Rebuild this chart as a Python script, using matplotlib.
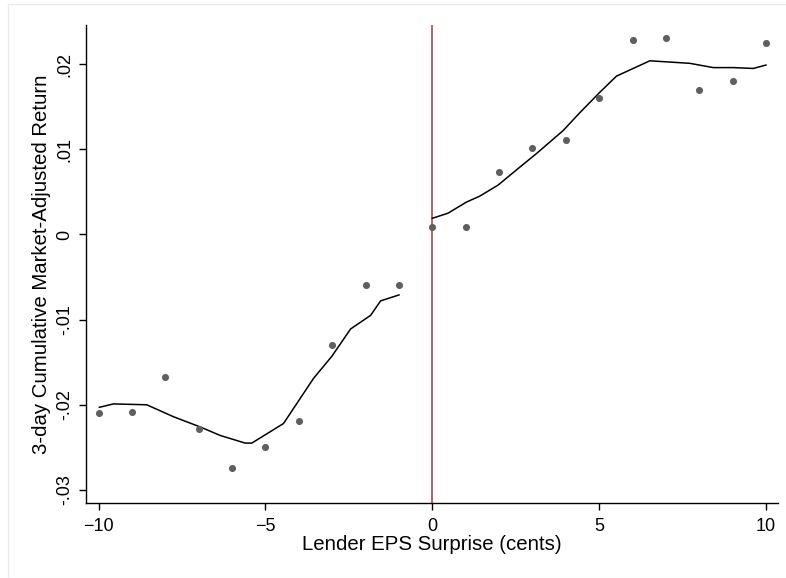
import matplotlib
matplotlib.use("Agg")
import matplotlib.pyplot as plt
from matplotlib.patches import Rectangle

plt.rcParams['font.family'] = ['Liberation Sans', 'DejaVu Sans']

# binned means
surprise = [-10, -9, -8, -7, -6, -5, -4, -3, -2, -1,
            0, 1, 2, 3, 4, 5, 6, 7, 8, 9, 10]
ret = [-0.0210, -0.0208, -0.0167, -0.0228, -0.0274, -0.0250, -0.0219, -0.0130, -0.0059, -0.0059,
       0.0009, 0.0009, 0.0073, 0.0102, 0.0111, 0.0160, 0.0228, 0.0231, 0.0170, 0.0180, 0.0225]

# lowess fit, left of cutoff
fit_left_x = [-9.98, -9.56, -8.56, -7.76, -6.96, -6.36, -5.61, -5.41, -4.46,
              -3.56, -3.01, -2.45, -1.85, -1.55, -1.0]
fit_left_y = [-0.0203, -0.0199, -0.0200, -0.0214, -0.0226, -0.0236, -0.0245, -0.0245, -0.0222,
              -0.0169, -0.0143, -0.0111, -0.0095, -0.0078, -0.0071]

# lowess fit, right of cutoff
fit_right_x = [0.0, 0.47, 1.02, 1.42, 1.97, 2.62, 3.12, 3.92, 4.42, 5.02,
               5.52, 6.02, 6.52, 6.92, 7.72, 8.42, 9.02, 9.62, 10.0]
fit_right_y = [0.0019, 0.0025, 0.0038, 0.0045, 0.0058, 0.0079, 0.0095, 0.0122, 0.0143, 0.0167,
               0.0186, 0.0195, 0.0204, 0.0203, 0.0201, 0.0196, 0.0196, 0.0195, 0.0199]

xticks = [-10, -5, 0, 5, 10]
yticks = [0.02, 0.01, 0, -0.01, -0.02, -0.03]
ytick_labels = ['.02', '.01', '0', '-.01', '-.02', '-.03']

fig = plt.figure(figsize=(7.86, 5.78), dpi=100)
fig.patches.append(Rectangle((8 / 786, 0), 1, 1 - 4 / 578, transform=fig.transFigure,
                             fill=False, edgecolor='#e6ecf0', linewidth=1))
ax = fig.add_axes([0.1094, 0.1303, 0.8804, 0.8264])

ax.axvline(0, color='#a8373a', linewidth=1.1, zorder=1)
ax.scatter(surprise, ret, s=26, color='#5f5f5f', zorder=3, linewidths=0)
ax.plot(fit_left_x, fit_left_y, color='black', linewidth=1.1, zorder=2)
ax.plot(fit_right_x, fit_right_y, color='black', linewidth=1.1, zorder=2)

ax.set_xlim(-10.38, 10.36)
ax.set_ylim(-0.0315, 0.0246)
ax.set_xticks(xticks)
ax.set_yticks(yticks)
ax.set_yticklabels(ytick_labels, rotation=90, va='center')
ax.tick_params(axis='both', direction='out', length=5, width=1, labelsize=13)
ax.tick_params(axis='x', pad=6)
ax.tick_params(axis='y', pad=4)

for side in ['top', 'right']:
    ax.spines[side].set_visible(False)
for side in ['left', 'bottom']:
    ax.spines[side].set_linewidth(1)

ax.set_xlabel('Lender EPS Surprise (cents)', fontsize=14.7, labelpad=0)
ax.set_ylabel('3-day Cumulative Market-Adjusted Return', fontsize=14.7, labelpad=4)

fig.savefig('out.png', dpi=100)
